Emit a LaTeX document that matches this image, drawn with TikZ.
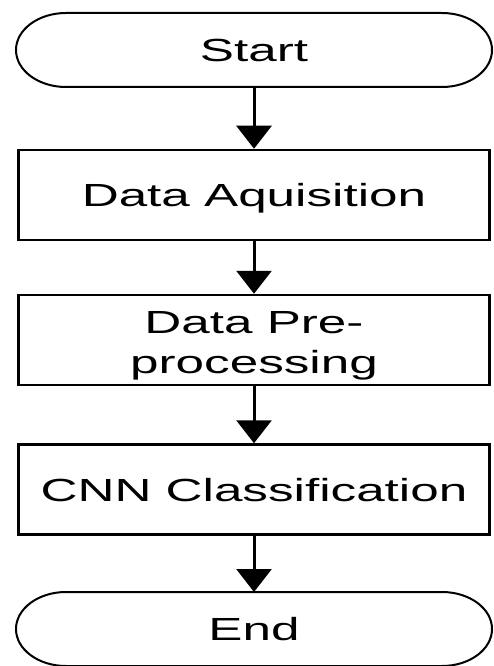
\documentclass[tikz,border=0pt]{standalone}
\usepackage{fontspec}
\setmainfont[FakeStretch=1.6]{Liberation Sans}
\usetikzlibrary{arrows.meta,positioning}

\begin{document}
\begin{tikzpicture}[x=1pt, y=-1pt,
  lbl/.style={font=\fontsize{32}{40}\selectfont, align=center},
  oneline/.style={text height=23pt, text depth=0pt},
  box/.style={lbl, draw, line width=2.5pt, minimum width=471pt, minimum height=90pt, inner sep=0pt},
  term/.style={lbl, oneline, minimum width=476pt, minimum height=74pt, inner sep=0pt, outer sep=0pt},
  flow/.style={line width=3pt, -{Triangle[width=35pt,length=23pt]}}]
\useasboundingbox (0,0) rectangle (493,666);
%steps
\node[term] (start) at (254,50) {Start};
\node[box, oneline] (aqui) at (254,195) {Data Aquisition};
\node[box, text height=66pt, text depth=0pt] (prep) at (254,340) {Data Pre-\\processing};
\node[box, oneline] (cnn) at (254,489.5) {CNN Classification};
\node[term] (end) at (254,629) {End};

%terminal outlines
\foreach \n in {start,end}{\draw[line width=2pt] ([xshift=50pt]\n.north west) -- ([xshift=-50pt]\n.north east) arc[start angle=90, end angle=-90, x radius=50pt, y radius=37pt] -- ([xshift=50pt]\n.south west) arc[start angle=270, end angle=90, x radius=50pt, y radius=37pt] -- cycle;}

%arrows
\draw[flow] (start) -- (aqui);
\draw[flow] (aqui) -- (prep);
\draw[flow] (prep) -- (cnn);
\draw[flow] (cnn) -- (end);
\end{tikzpicture}
\end{document}
